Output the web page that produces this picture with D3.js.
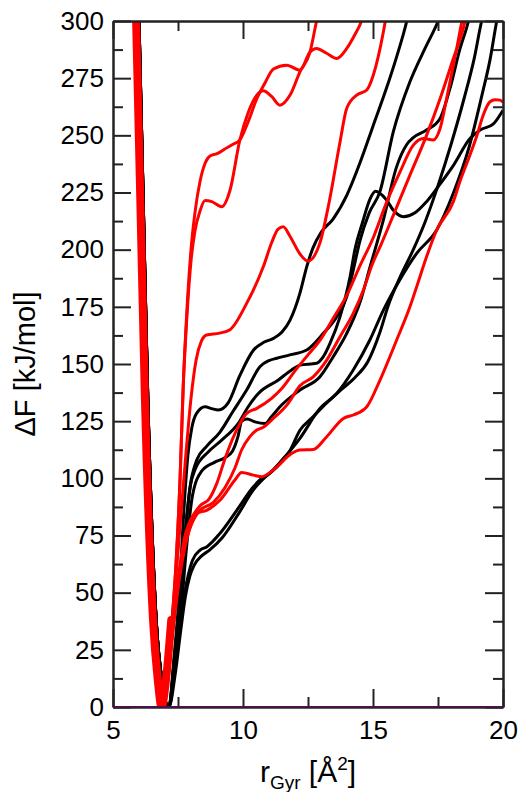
<!DOCTYPE html>
<html>
<head>
<meta charset="utf-8">
<script src="https://cdn.jsdelivr.net/npm/d3@7"></script>
<style>
body { margin: 0; background: #fff; }
</style>
</head>
<body>
<script>
// tick values
var xMajor = [5, 10, 15, 20];
var xMinor = [7.5, 12.5, 17.5];
var yMajor = [0, 25, 50, 75, 100, 125, 150, 175, 200, 225, 250, 275, 300];
var yMinor = [12.5, 37.5, 62.5, 87.5, 112.5, 137.5, 162.5, 187.5, 212.5, 237.5, 262.5, 287.5];

// shared walls of the well
var wallRed = [[5.89,300],[6.05,222],[6.23,134],[6.54,38],[6.72,12],[6.87,0]];
var wallBlack = [[6.0,300],[6.16,222],[6.34,134],[6.66,38],[6.9,10],[7.15,0]];
var wellRed = [[5.89,300],[6.05,222],[6.23,134],[6.54,38],[6.72,12],[6.87,0],[7.02,10],[7.14,24],[7.24,38]];

// red profiles (right branch)
var red1 = [[7.05,10],[7.25,35],[7.42,62],[7.58,100],[7.7,140],[7.85,175],[8.0,200],[8.15,216],[8.35,230],[8.55,238],[8.73,241],[9.0,242],[9.3,244],[9.6,246],[9.88,248],[10.2,256],[10.53,266],[10.85,273],[11.17,279],[11.68,280.7],[12.19,278.5],[12.58,286.5],[12.83,288],[13.2,286],[13.6,283.6],[13.99,288],[14.3,294],[14.56,300],[14.7,305]];
var red2 = [[7.05,10],[7.25,35],[7.42,62],[7.58,100],[7.7,140],[7.85,172],[8.0,195],[8.15,208],[8.35,217],[8.54,221.5],[8.8,221],[9.18,218.8],[9.5,226],[9.88,248],[10.2,260],[10.53,267.6],[10.78,269.5],[11.1,267],[11.42,263.2],[11.81,267.6],[12.19,277.8],[12.58,286.5],[12.83,300],[12.95,306]];
var red3 = [[7.05,10],[7.3,40],[7.55,75],[7.8,110],[8.0,135],[8.2,152],[8.4,160],[8.6,162.7],[9.1,163.5],[9.5,165],[10.14,176.5],[10.78,192.5],[11.1,203],[11.35,209],[11.55,210],[11.8,206],[12.2,198],[12.5,195],[12.96,203],[13.3,220],[13.73,247],[13.99,261.8],[14.37,267.6],[14.76,269.8],[15.01,276.3],[15.4,295.3],[15.55,305]];
var red4 = [[7.05,10],[7.32,38],[7.55,60],[7.75,74],[7.95,81],[8.15,85],[8.35,88],[8.7,91],[9.0,98],[9.31,108.7],[9.82,122.6],[10.14,128.4],[10.53,130.6],[11.1,135],[11.49,139.3],[12.0,147],[12.5,154],[13.0,161],[13.47,170],[13.99,180],[14.5,193],[15.0,205],[15.5,220],[16.04,234],[16.55,245.7],[16.94,248.6],[17.32,248],[17.58,253],[17.83,266],[18.22,288],[18.42,300],[18.5,305]];
var red5 = [[7.05,10],[7.32,36],[7.55,57],[7.75,70],[7.95,78],[8.15,83],[8.35,86],[8.86,89.5],[9.31,96],[9.69,104.5],[9.95,112.5],[10.25,118],[10.53,121.1],[10.78,122.3],[11.1,125.5],[11.74,132.8],[12.19,140.5],[12.7,144.4],[13.22,151.7],[13.73,161.9],[14.24,172.1],[14.63,182.3],[14.95,193],[15.3,202],[15.78,215],[16.42,232.6],[17.06,250],[17.58,266],[18.09,283.6],[18.47,296.7],[18.6,303]];
var red6 = [[7.05,10],[7.32,35],[7.55,56],[7.75,69],[7.98,79],[8.22,84.7],[8.6,86],[9.12,90.5],[9.69,99.3],[9.95,102.5],[10.4,101.4],[10.72,100.7],[11.2,104],[11.87,110.9],[12.19,112.4],[12.7,112.6],[13.22,118.2],[13.86,126.2],[14.24,127.7],[14.76,131.3],[15.27,143],[15.91,160.5],[16.42,175],[16.68,183.8],[17.06,196.9],[17.45,208.6],[18.09,221],[18.35,230],[18.73,241.4],[19.0,250],[19.24,258.9],[19.5,264.7],[19.7,265.6],[19.88,265.4],[20.0,264.5]];

// black profiles
var black1 = [[7.35,22],[7.55,50],[7.72,85],[7.88,110],[8.03,122],[8.22,128.5],[8.54,131.3],[8.8,130.5],[9.05,129.9],[9.43,133],[9.88,145],[10.4,156],[10.8,159.5],[11.17,161.2],[11.5,164],[11.81,169.2],[12.19,181],[12.45,192.5],[12.7,201],[13.0,207.5],[13.47,213.5],[14.0,224],[14.5,238],[15.0,254],[15.5,270],[15.9,284],[16.3,300],[16.4,305]];
var black2 = [[7.35,20],[7.57,45],[7.77,75],[7.96,96],[8.22,108],[8.6,114],[9.1,120],[9.6,129],[10.14,138.6],[10.65,148.8],[11.0,151.5],[11.3,152.5],[11.8,154],[12.45,156.1],[13.09,163.4],[13.6,170.6],[13.99,179.4],[14.24,191],[14.5,204],[14.85,216],[15.27,225.5],[15.78,251.5],[16.42,273.4],[17.0,288],[17.51,300],[17.65,304]];
var black3 = [[7.35,19],[7.57,42],[7.8,78],[7.98,97],[8.15,103.6],[8.67,111.6],[9.18,116.7],[9.82,124],[10.2,131.3],[10.59,137.1],[11.36,143],[11.87,147.4],[12.19,149.5],[12.83,150.3],[13.09,153.2],[13.35,159.1],[13.73,170.6],[14.12,188.2],[14.3,199.8],[14.6,212],[14.88,222],[15.1,225.5],[15.5,222],[15.8,217],[16.17,214.4],[16.6,216],[17.06,221],[17.6,229],[18.1,237],[18.73,248.6],[19.12,252.3],[19.63,255],[20.0,261]];
var black4 = [[7.37,18],[7.6,40],[7.83,70],[8.05,92],[8.4,103],[8.9,107],[9.3,109],[9.6,112],[9.8,118],[9.95,125],[10.15,126],[10.46,124.7],[10.85,124],[11.1,127],[11.42,131.3],[12.19,138.6],[12.96,144.4],[13.47,153.2],[13.99,163.4],[14.5,177],[14.9,193],[15.4,213],[15.9,236],[16.3,246],[16.55,249],[17.06,252.3],[17.58,257.4],[17.96,270.5],[18.35,288],[18.6,297],[18.72,302]];
var black5 = [[7.38,17],[7.58,36],[7.76,50],[7.9,58],[8.05,64],[8.35,68.6],[8.6,70],[9.12,76],[9.76,86],[10.4,96.3],[10.65,99.3],[11.0,102],[11.5,108],[12.19,117.5],[12.96,130.6],[13.6,137.1],[14.24,147.4],[14.88,160.5],[15.4,173.6],[16.04,187],[16.68,198.4],[17.45,208.6],[18.1,225],[18.7,245],[19.2,268],[19.5,283],[19.76,300],[19.85,305]];
var black6 = [[7.4,15],[7.6,33],[7.78,48],[7.95,57],[8.12,62],[8.4,66],[8.7,68.5],[9.2,74],[9.8,84],[10.4,95],[10.8,100],[11.3,105],[11.8,112],[12.19,121],[12.7,127],[13.22,133],[13.8,139],[14.3,144],[14.8,151],[15.27,164],[15.6,176],[16.04,188],[16.55,200],[17.0,212],[17.5,228],[18.0,246],[18.5,266],[18.9,284],[19.18,300],[19.3,305]];

var redCurves = [red1, red2, red3, red4, red5, red6];
var blackCurves = [black1, black2, black3, black4, black5, black6];

var W = 527, H = 792;
var margin = {top: 21, right: 24, bottom: 85, left: 113};

var svg = d3.select("body").append("svg")
    .attr("width", W)
    .attr("height", H);

var x = d3.scaleLinear().domain([5, 20]).range([margin.left, W - margin.right]);
var y = d3.scaleLinear().domain([0, 300]).range([H - margin.bottom, margin.top]);

svg.append("clipPath").attr("id", "plot")
  .append("rect")
    .attr("x", x(5)).attr("y", y(300))
    .attr("width", x(20) - x(5)).attr("height", y(0) - y(300));

var line = d3.line()
    .x(function(d){ return x(d[0]); })
    .y(function(d){ return y(d[1]); })
    .curve(d3.curveMonotoneX);

var curves = svg.append("g").attr("clip-path", "url(#plot)");

// black first, red on top
curves.selectAll("path.black")
    .data(blackCurves)
    .enter().append("path")
    .attr("class", "black")
    .attr("d", function(d){ return line(wallBlack.concat(d)); })
    .attr("fill", "none")
    .attr("stroke", "#000")
    .attr("stroke-width", 3)
    .attr("stroke-linejoin", "round");

curves.selectAll("path.red")
    .data(redCurves)
    .enter().append("path")
    .attr("class", "red")
    .attr("d", function(d){ return line(wallRed.concat(d)); })
    .attr("fill", "none")
    .attr("stroke", "#ff0000")
    .attr("stroke-width", 3)
    .attr("stroke-linejoin", "round");

curves.append("path")
    .attr("d", line(wellRed))
    .attr("fill", "none")
    .attr("stroke", "#ff0000")
    .attr("stroke-width", 8)
    .attr("stroke-linejoin", "round")
    .attr("stroke-linecap", "round");

// axes with inward ticks
function styleAxis(g) {
  g.selectAll("path.domain").attr("stroke", "#222").attr("stroke-width", 2);
  g.selectAll(".tick line").attr("stroke", "#222").attr("stroke-width", 2);
  g.selectAll("text")
    .attr("font-family", "'Liberation Sans', Arial, sans-serif")
    .attr("font-size", 26)
    .attr("fill", "#000");
}

svg.append("g")
    .attr("transform", "translate(" + x(5) + ",0)")
    .call(d3.axisLeft(y).tickValues(yMajor).tickSize(-18).tickSizeOuter(0).tickPadding(9))
    .call(styleAxis);
svg.append("g")
    .attr("transform", "translate(" + x(5) + ",0)")
    .call(d3.axisLeft(y).tickValues(yMinor).tickSize(-10).tickSizeOuter(0).tickFormat(""))
    .call(styleAxis);
svg.append("g")
    .attr("transform", "translate(" + x(20) + ",0)")
    .call(d3.axisRight(y).tickValues(yMajor).tickSize(-18).tickSizeOuter(0).tickFormat(""))
    .call(styleAxis);
svg.append("g")
    .attr("transform", "translate(" + x(20) + ",0)")
    .call(d3.axisRight(y).tickValues(yMinor).tickSize(-10).tickSizeOuter(0).tickFormat(""))
    .call(styleAxis);
svg.append("g")
    .attr("transform", "translate(0," + y(300) + ")")
    .call(d3.axisTop(x).tickValues(xMajor).tickSize(-18).tickSizeOuter(0).tickFormat(""))
    .call(styleAxis);
svg.append("g")
    .attr("transform", "translate(0," + y(300) + ")")
    .call(d3.axisTop(x).tickValues(xMinor).tickSize(-10).tickSizeOuter(0).tickFormat(""))
    .call(styleAxis);
svg.append("g")
    .attr("transform", "translate(0," + y(0) + ")")
    .call(d3.axisBottom(x).tickValues(xMajor).tickSize(-18).tickSizeOuter(0).tickPadding(14))
    .call(styleAxis);
svg.append("g")
    .attr("transform", "translate(0," + y(0) + ")")
    .call(d3.axisBottom(x).tickValues(xMinor).tickSize(-10).tickSizeOuter(0).tickFormat(""))
    .call(styleAxis);

// zero line along the bottom, dark purple as in the figure
svg.append("line")
    .attr("x1", x(5)).attr("x2", x(20))
    .attr("y1", y(0)).attr("y2", y(0))
    .attr("stroke", "#4a1248")
    .attr("stroke-width", 2.2);

// axis titles
svg.append("text")
    .attr("transform", "translate(35," + ((y(0) + y(300)) / 2) + ") rotate(-90)")
    .attr("text-anchor", "middle")
    .attr("font-family", "'Liberation Sans', Arial, sans-serif")
    .attr("font-size", 29)
    .text("ΔF [kJ/mol]");

var xt = svg.append("text")
    .attr("x", (x(5) + x(20)) / 2)
    .attr("y", 782)
    .attr("text-anchor", "middle")
    .attr("font-family", "'Liberation Sans', Arial, sans-serif")
    .attr("font-size", 30);
xt.append("tspan").text("r");
xt.append("tspan").attr("font-size", 19).attr("dy", 7).text("Gyr");
xt.append("tspan").attr("dy", -7).text(" [Å");
xt.append("tspan").attr("font-size", 19).attr("dy", -12).text("2");
xt.append("tspan").attr("dy", 12).text("]");
</script>
</body>
</html>
